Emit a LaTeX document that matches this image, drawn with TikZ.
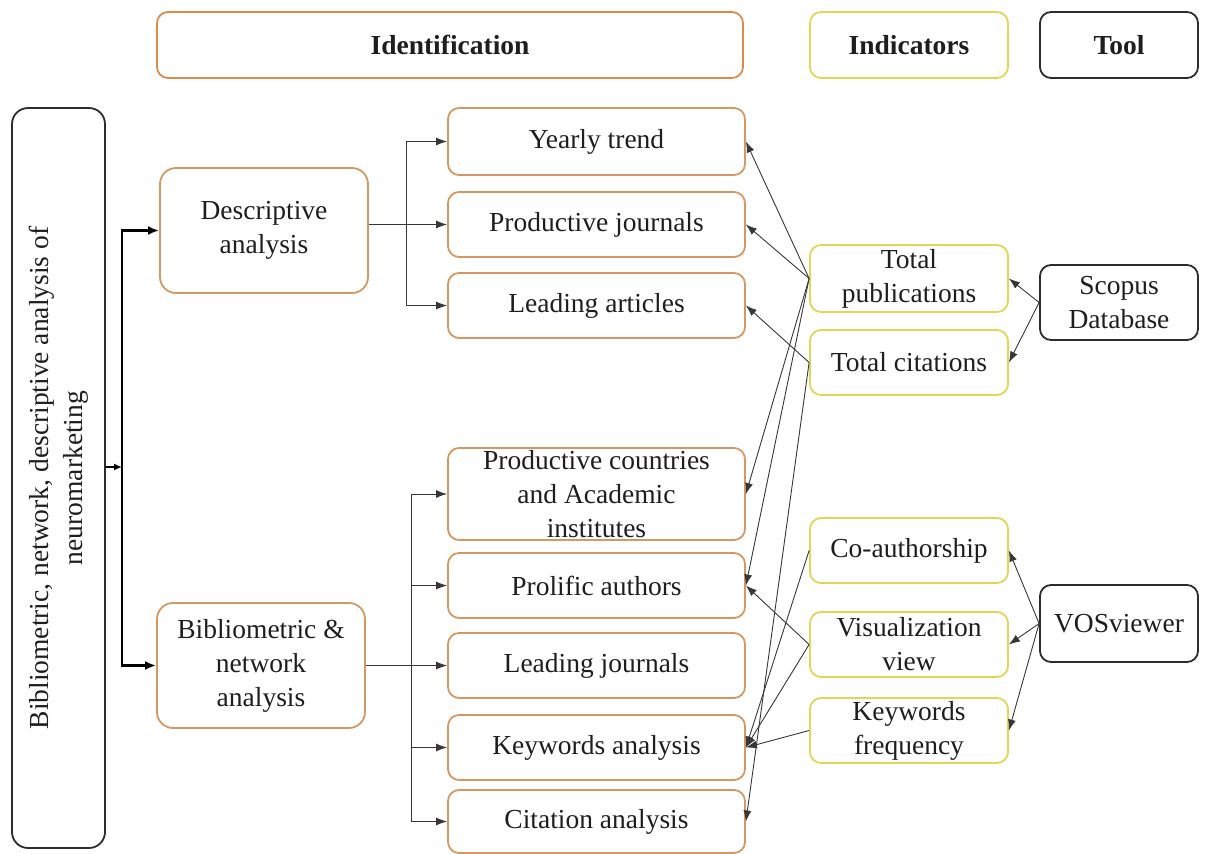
\documentclass[tikz,border=0pt]{standalone}
\usepackage{fontspec}
\setmainfont{Liberation Serif}
\usetikzlibrary{arrows.meta}
\definecolor{obor}{RGB}{214,152,98}
\definecolor{ohead}{RGB}{222,140,75}
\definecolor{ybor}{RGB}{226,214,86}
\definecolor{kbor}{RGB}{45,45,45}
\definecolor{lin}{RGB}{55,55,55}
\definecolor{txt}{RGB}{30,30,30}
\tikzset{
  box/.style={rounded corners=11pt, line width=1.8pt, align=center, inner sep=0pt,
    font=\fontsize{27.5}{34}\selectfont, text=txt},
  obox/.style={box, draw=obor},
  ybox/.style={box, draw=ybor, minimum width=198pt},
  kbox/.style={box, draw=kbor},
  head/.style={font=\bfseries\fontsize{27.5}{34}\selectfont},
  mid/.style={obox, minimum width=297pt, minimum height=65pt},
  conn/.style={draw=lin, line width=0.9pt, -{Latex[length=11pt,width=8pt]}},
  brk/.style={draw=lin, line width=1pt},
  heavy/.style={draw=black, line width=2.6pt},
}
\begin{document}
\begin{tikzpicture}[x=1pt,y=-1pt]
\useasboundingbox (0,0) rectangle (1208,854);
% headers
\node[box, draw=ohead, head, minimum width=586pt, minimum height=66pt] (idh) at (450,45) {Identification};
\node[ybox, head, minimum height=66pt] (indh) at (909,45) {Indicators};
\node[kbox, head, minimum width=158pt, minimum height=66pt] (toolh) at (1119,45) {Tool};
% left big box
\node[kbox, rounded corners=16pt, minimum width=740pt, minimum height=93pt, rotate=90] (big) at (58.5,478)
  {Bibliometric, network, descriptive analysis of\\neuromarketing};
% analyses
\node[obox, minimum width=208pt, minimum height=125pt, rounded corners=16pt] (desc) at (264,230.5) {Descriptive\\analysis};
\node[obox, minimum width=208pt, minimum height=125pt, rounded corners=16pt] (bib) at (261,665.5) {Bibliometric \&\\network\\analysis};
% middle column
\node[mid, minimum height=67pt] (yt) at (596.5,141.5) {Yearly trend};
\node[mid] (pj) at (596.5,224.5) {Productive journals};
\node[mid] (la) at (596.5,305.5) {Leading articles};
\node[mid, minimum height=92pt] (pc) at (596.5,494) {Productive countries\\and Academic\\institutes};
\node[mid] (pa) at (596.5,585.5) {Prolific authors};
\node[mid] (lj) at (596.5,665.5) {Leading journals};
\node[mid] (ka) at (596.5,747.5) {Keywords analysis};
\node[mid, minimum height=63pt] (ca) at (596.5,821.5) {Citation analysis};
% indicators
\node[ybox, minimum height=67pt] (tp) at (909,278.5) {Total\\publications};
\node[ybox, minimum height=65pt] (tc) at (909,362.5) {Total citations};
\node[ybox, minimum height=65pt] (co) at (909,550.5) {Co-authorship};
\node[ybox, minimum height=65pt] (vv) at (909,644.5) {Visualization\\view};
\node[ybox, minimum height=65pt] (kf) at (909,730.5) {Keywords\\frequency};
% tools
\node[kbox, minimum width=158pt, minimum height=75pt] (sc) at (1119,302.5) {Scopus\\Database};
\node[kbox, minimum width=158pt, minimum height=77pt] (vos) at (1119,623.5) {VOSviewer};
% left connectors
\coordinate (lb) at (122,467);
\draw[heavy, {Latex[length=11pt,width=9pt]}-{Latex[length=11pt,width=9pt]}] (desc.west) -| (lb) |- (bib.west);
\draw[heavy, line width=1.8pt, -{Latex[length=8pt,width=7pt]}] (big.south |- lb) -- (lb);
% descriptive branch
\coordinate (db) at (406,0);
\draw[brk] (db|-yt.west) -- (db|-la.west);
\draw[conn] (db|-yt.west) -- (yt.west);
\draw[conn] (db|-la.west) -- (la.west);
\draw[conn] (desc.east|-pj.west) -- (pj.west);
% bibliometric branch
\coordinate (bb) at (411,0);
\draw[brk] (bb|-pc.west) -- (bb|-ca.west);
\draw[conn] (bb|-pc.west) -- (pc.west);
\draw[conn] (bb|-pa.west) -- (pa.west);
\draw[conn] (bb|-ka.west) -- (ka.west);
\draw[conn] (bb|-ca.west) -- (ca.west);
\draw[conn] (bib.east|-lj.west) -- (lj.west);
% indicators to identification
\draw[conn] (tp.west) -- (yt.east);
\draw[conn] (tp.west) -- (pj.east);
\draw[conn] (tp.west) -- (pc.east);
\draw[conn] (tp.west) -- (pa.east);
\draw[conn] (tc.west) -- (la.east);
\draw[conn] (tc.west) -- (ca.east);
\draw[conn] (co.west) -- (ka.east);
\draw[conn] (vv.west) -- (pa.east);
\draw[conn] (vv.west) -- (ka.east);
\draw[conn] (kf.west) -- (ka.east);
% tools to indicators
\draw[conn] (sc.west) -- (tp.east);
\draw[conn] (sc.west) -- (tc.east);
\draw[conn] (vos.west) -- (co.east);
\draw[conn] (vos.west) -- (vv.east);
\draw[conn] (vos.west) -- (kf.east);
\end{tikzpicture}
\end{document}
